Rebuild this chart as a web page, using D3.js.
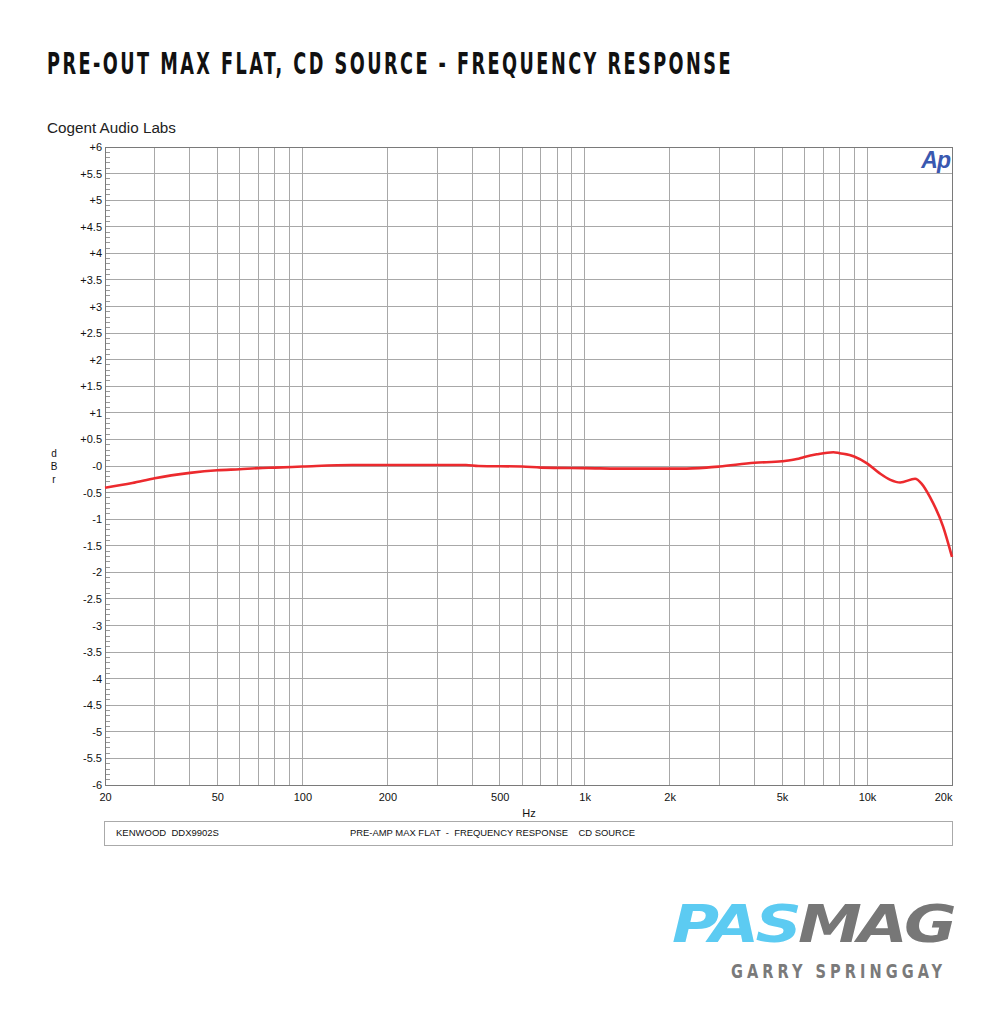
<!DOCTYPE html>
<html><head><meta charset="utf-8">
<script src="https://cdn.jsdelivr.net/npm/d3@7"></script>
<style>
html,body{margin:0;padding:0;background:#fff;}
svg{display:block;}
</style></head>
<body>
<script>
const titleText = "PRE-OUT MAX FLAT, CD SOURCE - FREQUENCY RESPONSE";
const subtitleText = "Cogent Audio Labs";
const freqs = [20,25,30,40,50,60,70,80,100,150,200,300,380,420,600,700,1000,1500,2000,2200,2700,3000,4000,5000,5640,6000,6640,7600,8000,9000,10000,11100,12100,13100,14800,15600,16700,18600,20000];
const dbr   = [-0.41,-0.32,-0.23,-0.13,-0.08,-0.06,-0.04,-0.03,-0.01,0.02,0.02,0.02,0.02,0.0,-0.01,-0.03,-0.04,-0.05,-0.05,-0.05,-0.03,-0.01,0.06,0.09,0.13,0.17,0.22,0.26,0.24,0.18,0.05,-0.14,-0.26,-0.31,-0.24,-0.33,-0.58,-1.14,-1.71];
const xTickValues = [20,50,100,200,500,1000,2000,5000,10000,20000];
const xTickLabels = ["20","50","100","200","500","1k","2k","5k","10k","20k"];
const xGridValues = [20,30,40,50,60,70,80,90,100,200,300,400,500,600,700,800,900,1000,2000,3000,4000,5000,6000,7000,8000,9000,10000,20000];
const yTickValues = d3.range(-6, 6.001, 0.5).map(v => Math.round(v*10)/10);
const yMinorValues = d3.range(-6, 6.001, 0.1).map(v => Math.round(v*10)/10);
const legendLeft = "KENWOOD  DDX9902S";
const legendRight = "PRE-AMP MAX FLAT  -  FREQUENCY RESPONSE    CD SOURCE";
const yAxisLetters = ["d","B","r"];

const W = 1000, H = 1020;
const svg = d3.select("body").append("svg").attr("width", W).attr("height", H);

const L = 105, R = 952, T = 147, B = 785;
const x = d3.scaleLog().domain([20, 20000]).range([L, R]);
const y = d3.scaleLinear().domain([-6, 6]).range([B, T]);

// Title
svg.append("text").attr("transform", "translate(47,74) scale(1,1.25)")
  .attr("font-family", "'DejaVu Sans Condensed','Liberation Sans Narrow',sans-serif")
  .attr("font-weight", "bold").attr("font-size", 24).attr("fill", "#111")
  .attr("letter-spacing", 3)
  .attr("textLength", 686).attr("lengthAdjust", "spacingAndGlyphs")
  .text(titleText);

svg.append("text").attr("x", 47).attr("y", 133)
  .attr("font-family", "'Liberation Sans','Arial',sans-serif")
  .attr("font-size", 15.5).attr("fill", "#222")
  .attr("textLength", 129).attr("lengthAdjust", "spacingAndGlyphs")
  .text(subtitleText);

// Grid
const g = svg.append("g");
g.selectAll("line.hg").data(yTickValues).join("line")
  .attr("x1", L).attr("x2", R).attr("y1", d => y(d)).attr("y2", d => y(d))
  .attr("stroke", "#a8a8a8").attr("stroke-width", 1).attr("shape-rendering", "crispEdges");
g.selectAll("line.vg").data(xGridValues).join("line")
  .attr("y1", T).attr("y2", B).attr("x1", d => x(d)).attr("x2", d => x(d))
  .attr("stroke", "#a8a8a8").attr("stroke-width", 1).attr("shape-rendering", "crispEdges");
// minor ticks on left
g.selectAll("line.mt").data(yMinorValues).join("line")
  .attr("x1", L).attr("x2", L + 5).attr("y1", d => y(d)).attr("y2", d => y(d))
  .attr("stroke", "#999").attr("stroke-width", 1).attr("shape-rendering", "crispEdges");
// border
svg.append("rect").attr("x", L).attr("y", T).attr("width", R - L).attr("height", B - T)
  .attr("fill", "none").attr("stroke", "#7a7a7a").attr("stroke-width", 1).attr("shape-rendering", "crispEdges");

// Y axis labels
const yAxis = d3.axisLeft(y).tickValues(yTickValues).tickSize(0).tickPadding(3)
  .tickFormat(d => d === 0 ? "-0" : (d > 0 ? "+" : "") + d);
const ya = svg.append("g").attr("transform", `translate(${L},0)`).call(yAxis);
ya.select(".domain").remove();
ya.selectAll("text").attr("font-family", "'Liberation Sans',Arial,sans-serif").attr("font-size", 11).attr("fill", "#111");

// X axis labels
const xAxis = d3.axisBottom(x).tickValues(xTickValues).tickSize(0).tickPadding(8)
  .tickFormat((d, i) => xTickLabels[i]);
const xa = svg.append("g").attr("transform", `translate(0,${B})`).call(xAxis);
xa.select(".domain").remove();
xa.selectAll("text").attr("font-family", "'Liberation Sans',Arial,sans-serif").attr("font-size", 11).attr("fill", "#111");
xa.selectAll("text").filter((d, i) => i === xTickValues.length - 1).attr("text-anchor", "end").attr("dx", 0);

svg.append("text").attr("x", 529).attr("y", 817).attr("text-anchor", "middle")
  .attr("font-family", "'Liberation Sans',Arial,sans-serif").attr("font-size", 11).attr("fill", "#111").text("Hz");

svg.append("g").selectAll("text").data(yAxisLetters).join("text")
  .attr("x", 54).attr("y", (d, i) => 457 + i * 13).attr("text-anchor", "middle")
  .attr("font-family", "'Liberation Sans',Arial,sans-serif").attr("font-size", 10).attr("fill", "#111")
  .text(d => d);

// Ap logo
svg.append("text").attr("x", 950).attr("y", 168).attr("text-anchor", "end")
  .attr("font-family", "'Liberation Sans',Arial,sans-serif").attr("font-weight", "bold").attr("font-style", "italic")
  .attr("font-size", 23).attr("fill", "#3a58b0").attr("letter-spacing", -1).text("Ap");

// Curve
const line = d3.line().x((d, i) => x(freqs[i])).y(d => y(d)).curve(d3.curveMonotoneX);
svg.append("path").datum(dbr).attr("d", line)
  .attr("fill", "none").attr("stroke", "#ec2a2e").attr("stroke-width", 2.6).attr("stroke-linejoin", "round");

// Legend box
svg.append("rect").attr("x", 104.5).attr("y", 821.5).attr("width", 848).attr("height", 24)
  .attr("fill", "none").attr("stroke", "#aaa").attr("stroke-width", 1);
svg.append("text").attr("x", 116).attr("y", 836)
  .attr("font-family", "'Liberation Sans',Arial,sans-serif").attr("font-size", 9.5).attr("fill", "#111")
  .style("white-space", "pre").text(legendLeft);
svg.append("text").attr("x", 350).attr("y", 836)
  .attr("font-family", "'Liberation Sans',Arial,sans-serif").attr("font-size", 9.5).attr("fill", "#111")
  .style("white-space", "pre").attr("textLength", 285).attr("lengthAdjust", "spacingAndGlyphs").text(legendRight);

// PASMAG logo
const logo = svg.append("text").attr("x", 672).attr("y", 942)
  .attr("font-family", "'DejaVu Sans',sans-serif").attr("font-weight", "bold").attr("font-style", "italic")
  .attr("font-size", 51).attr("letter-spacing", -3)
  .attr("textLength", 281).attr("lengthAdjust", "spacingAndGlyphs");
logo.append("tspan").attr("fill", "#5ccbf2").text("PAS");
logo.append("tspan").attr("fill", "#777777").text("MAG");

svg.append("text").attr("x", 731).attr("y", 978)
  .attr("font-family", "'DejaVu Sans Condensed','Liberation Sans Narrow',sans-serif").attr("font-weight", "bold")
  .attr("font-size", 20).attr("fill", "#7a7a7a").attr("letter-spacing", 5)
  .attr("textLength", 215).attr("lengthAdjust", "spacingAndGlyphs").text("GARRY SPRINGGAY");
</script>
</body></html>
